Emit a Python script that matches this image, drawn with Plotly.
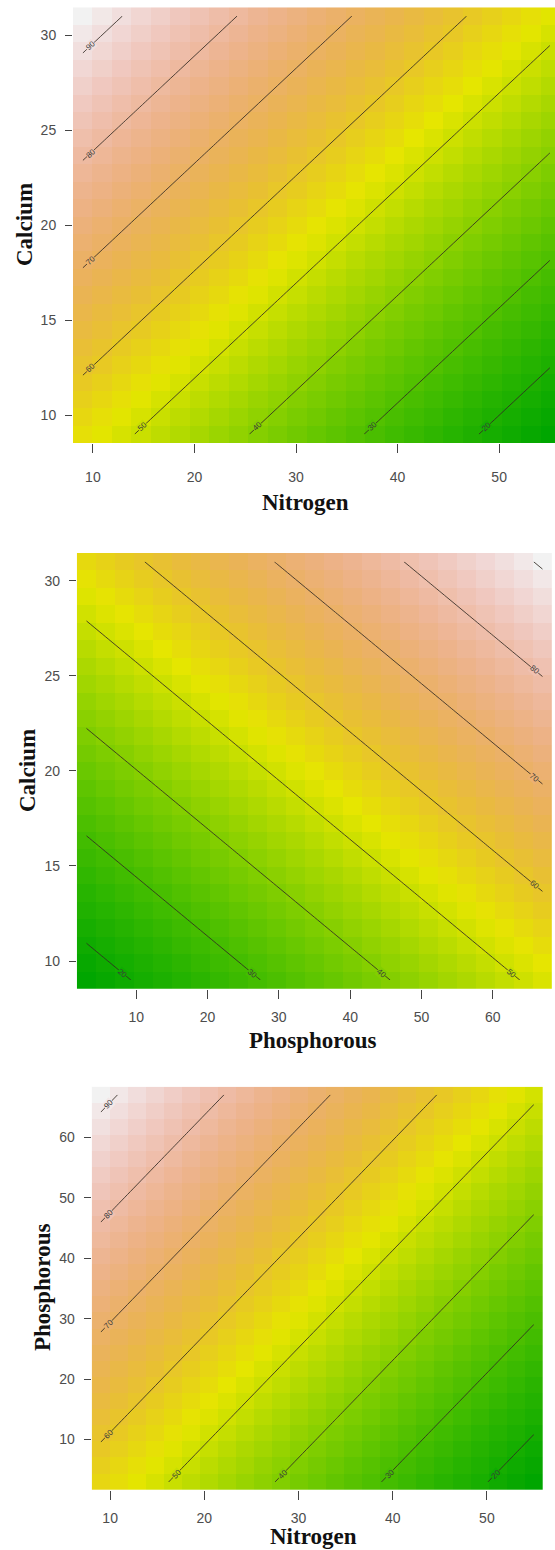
import colorsys
import math
import numpy as np
import plotly.graph_objects as go

# ---- data: fitted response surface ----
nitrogen_limits = [9, 55]
phosphorous_limits = [3, 67]
calcium_limits = [9, 31]
grid_points = 25

model_intercept = 27.3
model_coef_nitrogen = -0.885
model_coef_phosphorous = 0.55
model_coef_calcium = 1.77

held_nitrogen = 32
held_phosphorous = 35
held_calcium = 20

contour_levels = [10, 20, 30, 40, 50, 60, 70, 80, 90]

x_ticks_p1 = [10, 20, 30, 40, 50]
y_ticks_p1 = [10, 15, 20, 25, 30]
x_ticks_p2 = [10, 20, 30, 40, 50, 60]
y_ticks_p2 = [10, 15, 20, 25, 30]
x_ticks_p3 = [10, 20, 30, 40, 50]
y_ticks_p3 = [10, 20, 30, 40, 50, 60]


def predict(n, p, ca):
    return (model_intercept + model_coef_nitrogen * n
            + model_coef_phosphorous * p + model_coef_calcium * ca)


def terrain_colors(n):
    k = n // 2
    cols = []
    h1 = np.linspace(4 / 12, 2 / 12, k)
    s1 = np.linspace(1, 1, k)
    v1 = np.linspace(0.65, 0.9, k)
    h2 = np.linspace(2 / 12, 0, n - k + 1)[1:]
    s2 = np.linspace(1, 0, n - k + 1)[1:]
    v2 = np.linspace(0.9, 0.95, n - k + 1)[1:]
    for h, s, v in list(zip(h1, s1, v1)) + list(zip(h2, s2, v2)):
        r, g, b = colorsys.hsv_to_rgb(h, s, v)
        cols.append(f"rgb({int(round(r*255))},{int(round(g*255))},{int(round(b*255))})")
    return cols


tc = terrain_colors(100)
colorscale = [[i / (len(tc) - 1), c] for i, c in enumerate(tc)]

N = np.linspace(*nitrogen_limits, grid_points)
P = np.linspace(*phosphorous_limits, grid_points)
Ca = np.linspace(*calcium_limits, grid_points)

# panel surfaces: z[row=y][col=x]
z1 = [[predict(n, held_phosphorous, c) for n in N] for c in Ca]   # Nitrogen vs Calcium
z2 = [[predict(held_nitrogen, p, c) for p in P] for c in Ca]      # Phosphorous vs Calcium
z3 = [[predict(n, p, held_calcium) for n in N] for p in P]        # Nitrogen vs Phosphorous

W, H = 555, 1550

half_n = (nitrogen_limits[1] - nitrogen_limits[0]) / (grid_points - 1) / 2
half_p = (phosphorous_limits[1] - phosphorous_limits[0]) / (grid_points - 1) / 2
half_c = (calcium_limits[1] - calcium_limits[0]) / (grid_points - 1) / 2

# panel boxes in pixels: (left, right, top, bottom) and axis ranges
panels = [
    dict(xs=N, ys=Ca, z=z1, xa="x", ya="y",
         box=(73, 555, 7.3, 443),
         xr=[nitrogen_limits[0] - half_n, 55.5],
         yr=[calcium_limits[0] - half_c, calcium_limits[1] + half_c],
         xt=x_ticks_p1, yt=y_ticks_p1, xstand=12),
    dict(xs=P, ys=Ca, z=z2, xa="x2", ya="y2",
         box=(76.8, 552.2, 553, 988.8),
         xr=[phosphorous_limits[0] - half_p, phosphorous_limits[1] + half_p],
         yr=[calcium_limits[0] - half_c, calcium_limits[1] + half_c],
         xt=x_ticks_p2, yt=y_ticks_p2, xstand=6),
    dict(xs=N, ys=P, z=z3, xa="x3", ya="y3",
         box=(91.7, 543, 1086.7, 1490),
         xr=[nitrogen_limits[0] - half_n, nitrogen_limits[1] + half_n],
         yr=[phosphorous_limits[0] - half_p, phosphorous_limits[1] + half_p],
         xt=x_ticks_p3, yt=y_ticks_p3, xstand=6),
]

fig = go.Figure()
annotations = []

for pn in panels:
    xs, ys, z = np.asarray(pn["xs"]), np.asarray(pn["ys"]), np.array(pn["z"])
    zmin, zmax = float(z.min()), float(z.max())
    fig.add_trace(go.Heatmap(
        x=xs, y=ys, z=z.tolist(), xaxis=pn["xa"], yaxis=pn["ya"],
        colorscale=colorscale, zmin=zmin, zmax=zmax,
        showscale=False, hoverinfo="skip", zsmooth=False,
    ))
    fig.add_trace(go.Contour(
        x=xs, y=ys, z=z.tolist(), xaxis=pn["xa"], yaxis=pn["ya"],
        contours=dict(start=contour_levels[0], end=contour_levels[-1], size=10,
                      coloring="none", showlabels=False),
        line=dict(color="rgba(50,42,35,0.85)", width=1),
        showscale=False, hoverinfo="skip",
    ))

    # R-style contour labels: at the lower end of each line, rotated along it
    left, right, top, bottom = pn["box"]
    sx = (right - left) / (pn["xr"][1] - pn["xr"][0])
    sy = (bottom - top) / (pn["yr"][1] - pn["yr"][0])
    gx = (z[0, -1] - z[0, 0]) / (xs[-1] - xs[0])
    gy = (z[-1, 0] - z[0, 0]) / (ys[-1] - ys[0])
    c0 = z[0, 0] - gx * xs[0] - gy * ys[0]
    x0, x1, y0, y1 = xs[0], xs[-1], ys[0], ys[-1]
    for L in contour_levels:
        if not (zmin < L < zmax):
            continue
        pts = []
        for xe in (x0, x1):
            ye = (L - c0 - gx * xe) / gy
            if y0 - 1e-9 <= ye <= y1 + 1e-9:
                pts.append((xe, ye))
        for ye in (y0, y1):
            xe = (L - c0 - gy * ye) / gx
            if x0 - 1e-9 <= xe <= x1 + 1e-9:
                pts.append((xe, ye))
        if len(pts) < 2:
            continue
        pts.sort(key=lambda p: p[1])
        (ax, ay), (bx, by) = pts[0], pts[-1]
        dxp, dyp = (bx - ax) * sx, -(by - ay) * sy
        length = math.hypot(dxp, dyp)
        if length < 20:
            continue
        d = min(11.0, length / 2)
        lx = ax + (bx - ax) * d / length
        ly = ay + (by - ay) * d / length
        ang = math.degrees(math.atan2(dyp, dxp))
        if ang > 90:
            ang -= 180
        elif ang < -90:
            ang += 180
        i = int(round((lx - x0) / (xs[1] - xs[0])))
        j = int(round((ly - y0) / (ys[1] - ys[0])))
        zc = z[min(max(j, 0), len(ys) - 1), min(max(i, 0), len(xs) - 1)]
        k = int(round((zc - zmin) / (zmax - zmin) * (len(tc) - 1)))
        annotations.append(dict(
            x=lx, y=ly, xref=pn["xa"], yref=pn["ya"], text=str(L),
            showarrow=False, textangle=ang, bgcolor=tc[k], borderpad=0,
            font=dict(family="Liberation Sans", size=8, color="#3a3a3a"),
        ))


def xdom(a, b):
    return [a / W, min(b / W, 1.0)]


def ydom(top, bottom):
    return [1 - bottom / H, 1 - top / H]


tickfont = dict(family="Liberation Sans", size=14, color="#4d4d4d")
common_x = dict(showgrid=False, zeroline=False, showline=False, ticks="outside",
                ticklen=9, tickwidth=1, tickcolor="#444", tickfont=tickfont,
                tickmode="array")
common_y = dict(showgrid=False, zeroline=False, showline=False, ticks="outside",
                ticklen=7, tickwidth=1, tickcolor="#444", tickfont=tickfont,
                tickmode="array")

layout_axes = {}
for idx, pn in enumerate(panels):
    sfx = "" if idx == 0 else str(idx + 1)
    left, right, top, bottom = pn["box"]
    layout_axes["xaxis" + sfx] = dict(common_x, domain=xdom(left, right), anchor=pn["ya"],
                                      range=pn["xr"], tickvals=pn["xt"],
                                      ticklabelstandoff=pn["xstand"])
    layout_axes["yaxis" + sfx] = dict(common_y, domain=ydom(top, bottom), anchor=pn["xa"],
                                      range=pn["yr"], tickvals=pn["yt"],
                                      ticklabelstandoff=6)

fig.update_layout(
    width=W, height=H, autosize=False,
    margin=dict(l=0, r=0, t=0, b=0),
    paper_bgcolor="white", plot_bgcolor="white",
    showlegend=False,
    **layout_axes,
)

title_font = dict(family="Liberation Serif", size=23, color="#111111")


def title(text, xpx, ypx, angle=0):
    return dict(text=f"<b>{text}</b>", x=xpx / W, y=1 - ypx / H,
                xref="paper", yref="paper", showarrow=False,
                xanchor="center", yanchor="middle", textangle=angle,
                font=title_font)


annotations += [
    title("Nitrogen", 305, 502),
    title("Calcium", 25, 225, -90),
    title("Phosphorous", 312, 1040),
    title("Calcium", 27, 771, -90),
    title("Nitrogen", 313, 1536),
    title("Phosphorous", 42, 1288, -90),
]
fig.update_layout(annotations=annotations)

fig.write_html("out.html",
               config={"displayModeBar": False, "staticPlot": True},
               post_script="document.body.style.margin='0';document.body.style.overflow='hidden';")
